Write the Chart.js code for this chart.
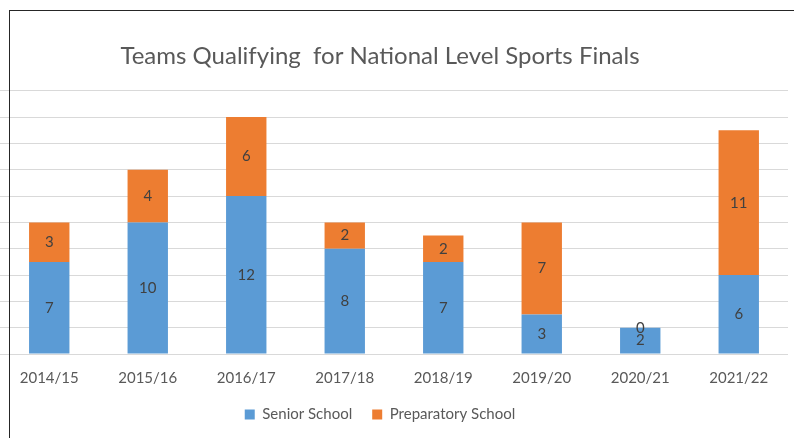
<!DOCTYPE html>
<html>
<head>
<meta charset="utf-8">
<script src="https://cdn.jsdelivr.net/npm/chart.js@4.4.1/dist/chart.umd.min.js"></script>
<style>
  html, body { margin: 0; padding: 0; background: #fff; }
  #wrap { position: relative; width: 794px; height: 438px; }
  #frame { position: absolute; left: 9px; top: 10px; right: -2px; bottom: -2px;
           border-left: 1px solid #262626; border-top: 1px solid #262626; pointer-events: none; }
</style>
</head>
<body>
<div id="wrap">
  <canvas id="chart" width="794" height="438"></canvas>
  <div id="frame"></div>
</div>
<script>
// chart data
var seasons = ["2014/15", "2015/16", "2016/17", "2017/18", "2018/19", "2019/20", "2020/21", "2021/22"];
var senior = [7, 10, 12, 8, 7, 3, 2, 6];
var prep = [3, 4, 6, 2, 2, 7, 0, 11];

var fontFamily = "Lato, 'Open Sans', sans-serif";

// draws the value in the middle of every bar segment
var valueLabels = {
    id: "valueLabels",
    afterDatasetsDraw: function(chart) {
        var ctx = chart.ctx;
        ctx.save();
        ctx.font = "15px " + fontFamily;
        ctx.fillStyle = "#404040";
        ctx.textAlign = "center";
        ctx.textBaseline = "middle";
        chart.data.datasets.forEach(function(ds, i) {
            var meta = chart.getDatasetMeta(i);
            meta.data.forEach(function(bar, j) {
                var p = bar.getProps(["x", "y", "base"], true);
                ctx.fillText(ds.data[j], p.x, (p.y + p.base) / 2);
            });
        });
        ctx.restore();
    }
};

var chart = new Chart(document.getElementById("chart"), {
    type: "bar",
    data: {
        labels: seasons,
        datasets: [
            {
                label: "Senior School",
                data: senior,
                backgroundColor: "#5B9BD5",
                categoryPercentage: 1,
                barPercentage: 0.41
            },
            {
                label: "Preparatory School",
                data: prep,
                backgroundColor: "#ED7D31",
                categoryPercentage: 1,
                barPercentage: 0.41
            }
        ]
    },
    options: {
        responsive: false,
        animation: false,
        layout: {
            padding: { top: 42, left: -28, right: 6, bottom: 6 }
        },
        plugins: {
            title: {
                display: true,
                text: "Teams Qualifying  for National Level Sports Finals",
                color: "#595959",
                font: { family: fontFamily, size: 24, weight: "normal" },
                padding: { top: 0, bottom: 20 }
            },
            legend: {
                display: true,
                position: "bottom",
                labels: {
                    color: "#595959",
                    font: { family: fontFamily, size: 15 },
                    boxWidth: 10,
                    boxHeight: 10,
                    padding: 20
                }
            },
            tooltip: { enabled: false }
        },
        scales: {
            x: {
                stacked: true,
                grid: { display: false, tickLength: 15 },
                border: { display: false },
                ticks: {
                    color: "#595959",
                    font: { family: fontFamily, size: 15 },
                    padding: 0,
                    maxRotation: 0
                }
            },
            y: {
                stacked: true,
                min: 0,
                max: 20,
                ticks: { display: false, stepSize: 2 },
                grid: { color: "#d9d9d9", drawTicks: false },
                border: { display: false },
                afterFit: function(scale) { scale.width = 28; }
            }
        }
    },
    plugins: [valueLabels]
});
</script>
</body>
</html>
